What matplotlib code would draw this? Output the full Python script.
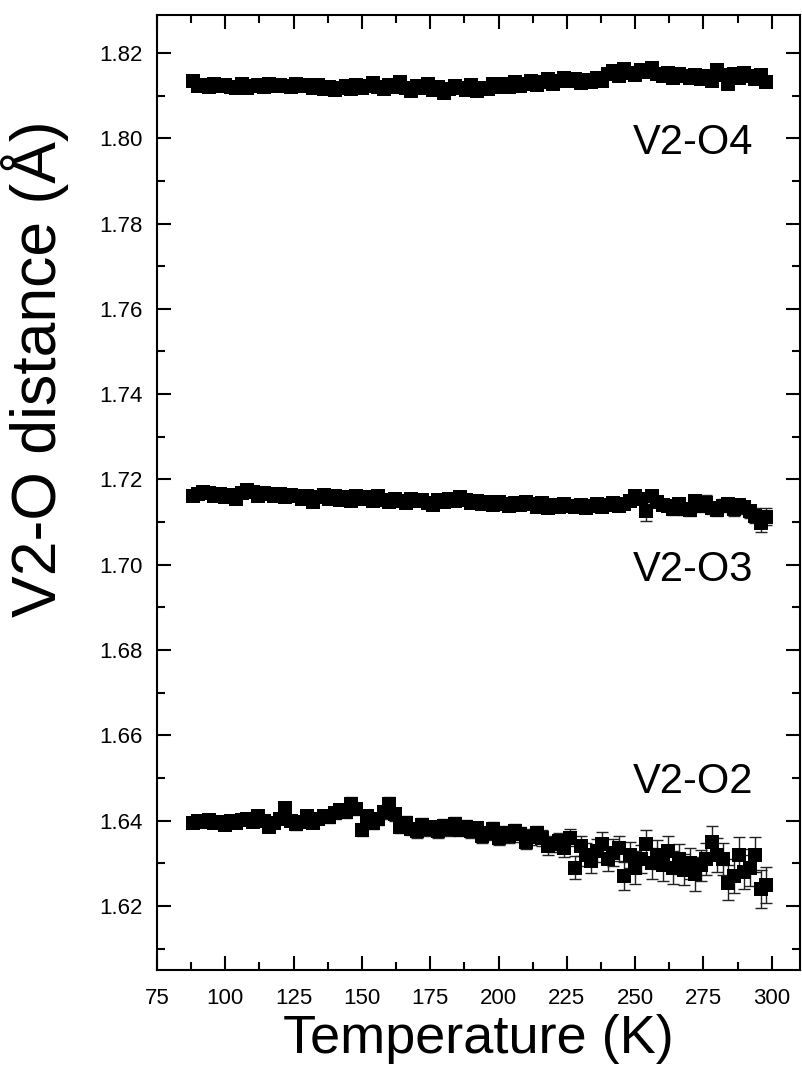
import matplotlib
matplotlib.use('Agg')
import matplotlib.pyplot as plt
import numpy as np
from matplotlib.ticker import MultipleLocator

plt.rcParams['font.family'] = ['Liberation Sans', 'DejaVu Sans']

# Temperature (K)
temps = np.arange(88, 299, 2)

# V2-O4 distance (A)
d_o4 = [1.8135, 1.8122, 1.8125, 1.8120, 1.8128, 1.8122, 1.8125, 1.8120, 1.8118, 1.8127,
        1.8118, 1.8123, 1.8125, 1.8120, 1.8128, 1.8122, 1.8125, 1.8123, 1.8120, 1.8126,
        1.8122, 1.8125, 1.8118, 1.8124, 1.8116, 1.8120, 1.8112, 1.8118, 1.8122, 1.8115,
        1.8125, 1.8118, 1.8122, 1.8130, 1.8120, 1.8115, 1.8124, 1.8120, 1.8132, 1.8118,
        1.8110, 1.8122, 1.8118, 1.8126, 1.8112, 1.8120, 1.8106, 1.8115, 1.8123, 1.8118,
        1.8114, 1.8124, 1.8110, 1.8118, 1.8115, 1.8126, 1.8120, 1.8128, 1.8120, 1.8132,
        1.8122, 1.8128, 1.8135, 1.8125, 1.8132, 1.8138, 1.8128, 1.8135, 1.8140, 1.8133,
        1.8138, 1.8130, 1.8137, 1.8132, 1.8142, 1.8135, 1.8150, 1.8158, 1.8145, 1.8162,
        1.8152, 1.8148, 1.8160, 1.8155, 1.8165, 1.8150, 1.8145, 1.8152, 1.8142, 1.8150,
        1.8145, 1.8140, 1.8148, 1.8138, 1.8145, 1.8135, 1.8160, 1.8148, 1.8128, 1.8150,
        1.8142, 1.8152, 1.8145, 1.8138, 1.8148, 1.8132]
e_o4 = [0.0007, 0.0007, 0.0007, 0.0007, 0.0007, 0.0007, 0.0007, 0.0007, 0.0007, 0.0007,
        0.0007, 0.0007, 0.0007, 0.0007, 0.0007, 0.0007, 0.0007, 0.0007, 0.0007, 0.0007,
        0.0007, 0.0007, 0.0007, 0.0007, 0.0007, 0.0007, 0.0007, 0.0007, 0.0007, 0.0007,
        0.0007, 0.0007, 0.0007, 0.0007, 0.0007, 0.0007, 0.0007, 0.0007, 0.0007, 0.0007,
        0.0007, 0.0007, 0.0007, 0.0007, 0.0007, 0.0007, 0.0007, 0.0007, 0.0007, 0.0007,
        0.0008, 0.0008, 0.0008, 0.0008, 0.0008, 0.0008, 0.0008, 0.0008, 0.0008, 0.0008,
        0.0008, 0.0008, 0.0008, 0.0008, 0.0008, 0.0008, 0.0008, 0.0008, 0.0008, 0.0008,
        0.0008, 0.0008, 0.0008, 0.0008, 0.0008, 0.0008, 0.0008, 0.0008, 0.0008, 0.0008,
        0.0009, 0.0009, 0.0009, 0.0009, 0.0009, 0.0009, 0.0009, 0.0009, 0.0009, 0.0009,
        0.0009, 0.0009, 0.0009, 0.0009, 0.0009, 0.0009, 0.0009, 0.0009, 0.0009, 0.0009,
        0.0009, 0.0009, 0.0009, 0.0009, 0.0009, 0.0009]

# V2-O3 distance (A)
d_o3 = [1.7160, 1.7165, 1.7170, 1.7168, 1.7162, 1.7165, 1.7158, 1.7163, 1.7155, 1.7168,
        1.7175, 1.7170, 1.7162, 1.7168, 1.7165, 1.7160, 1.7166, 1.7158, 1.7163, 1.7160,
        1.7155, 1.7162, 1.7148, 1.7158, 1.7163, 1.7155, 1.7160, 1.7152, 1.7158, 1.7150,
        1.7162, 1.7155, 1.7158, 1.7150, 1.7160, 1.7152, 1.7148, 1.7155, 1.7150, 1.7145,
        1.7155, 1.7150, 1.7152, 1.7145, 1.7140, 1.7152, 1.7148, 1.7155, 1.7150, 1.7158,
        1.7152, 1.7145, 1.7150, 1.7142, 1.7148, 1.7140, 1.7148, 1.7143, 1.7138, 1.7145,
        1.7140, 1.7148, 1.7142, 1.7135, 1.7145, 1.7132, 1.7140, 1.7135, 1.7142, 1.7138,
        1.7135, 1.7140, 1.7132, 1.7138, 1.7142, 1.7135, 1.7140, 1.7145, 1.7138, 1.7142,
        1.7150, 1.7162, 1.7155, 1.7125, 1.7160, 1.7148, 1.7140, 1.7138, 1.7130, 1.7142,
        1.7130, 1.7128, 1.7150, 1.7138, 1.7145, 1.7132, 1.7128, 1.7138, 1.7142, 1.7130,
        1.7140, 1.7135, 1.7125, 1.7115, 1.7098, 1.7112]
e_o3 = [0.0008, 0.0008, 0.0008, 0.0008, 0.0008, 0.0008, 0.0008, 0.0008, 0.0008, 0.0008,
        0.0008, 0.0008, 0.0008, 0.0008, 0.0008, 0.0008, 0.0008, 0.0008, 0.0008, 0.0008,
        0.0009, 0.0009, 0.0009, 0.0009, 0.0009, 0.0009, 0.0009, 0.0009, 0.0009, 0.0009,
        0.0009, 0.0009, 0.0009, 0.0009, 0.0009, 0.0009, 0.0009, 0.0009, 0.0009, 0.0009,
        0.0010, 0.0010, 0.0010, 0.0010, 0.0010, 0.0010, 0.0010, 0.0010, 0.0010, 0.0010,
        0.0010, 0.0010, 0.0010, 0.0010, 0.0010, 0.0010, 0.0010, 0.0010, 0.0010, 0.0010,
        0.0011, 0.0011, 0.0011, 0.0011, 0.0011, 0.0011, 0.0011, 0.0011, 0.0011, 0.0011,
        0.0011, 0.0011, 0.0011, 0.0011, 0.0011, 0.0011, 0.0011, 0.0012, 0.0012, 0.0012,
        0.0012, 0.0013, 0.0012, 0.0022, 0.0012, 0.0013, 0.0012, 0.0013, 0.0014, 0.0013,
        0.0014, 0.0014, 0.0013, 0.0014, 0.0018, 0.0014, 0.0014, 0.0015, 0.0014, 0.0015,
        0.0014, 0.0015, 0.0016, 0.0018, 0.0022, 0.0020]

# V2-O2 distance (A)
d_o2 = [1.6395, 1.6400, 1.6398, 1.6402, 1.6395, 1.6398, 1.6390, 1.6400, 1.6395, 1.6402,
        1.6405, 1.6398, 1.6410, 1.6400, 1.6385, 1.6395, 1.6405, 1.6430, 1.6400, 1.6392,
        1.6398, 1.6410, 1.6395, 1.6405, 1.6412, 1.6408, 1.6418, 1.6425, 1.6420, 1.6440,
        1.6428, 1.6378, 1.6410, 1.6395, 1.6405, 1.6420, 1.6440, 1.6415, 1.6385, 1.6395,
        1.6380, 1.6375, 1.6390, 1.6380, 1.6385, 1.6375, 1.6388, 1.6380, 1.6392, 1.6378,
        1.6385, 1.6375, 1.6382, 1.6365, 1.6370, 1.6380, 1.6360, 1.6370, 1.6365, 1.6375,
        1.6368, 1.6350, 1.6362, 1.6370, 1.6360, 1.6340, 1.6345, 1.6352, 1.6335, 1.6360,
        1.6290, 1.6340, 1.6320, 1.6305, 1.6330, 1.6345, 1.6310, 1.6325, 1.6335, 1.6270,
        1.6320, 1.6290, 1.6310, 1.6345, 1.6300, 1.6320, 1.6295, 1.6330, 1.6290, 1.6310,
        1.6285, 1.6300, 1.6275, 1.6295, 1.6310, 1.6350, 1.6320, 1.6310, 1.6255, 1.6270,
        1.6320, 1.6280, 1.6290, 1.6320, 1.6240, 1.6250]
e_o2 = [0.0010, 0.0011, 0.0010, 0.0011, 0.0010, 0.0011, 0.0010, 0.0011, 0.0012, 0.0011,
        0.0012, 0.0011, 0.0012, 0.0013, 0.0012, 0.0011, 0.0012, 0.0013, 0.0012, 0.0013,
        0.0012, 0.0013, 0.0012, 0.0013, 0.0014, 0.0013, 0.0014, 0.0013, 0.0014, 0.0015,
        0.0014, 0.0015, 0.0014, 0.0015, 0.0014, 0.0015, 0.0016, 0.0015, 0.0014, 0.0015,
        0.0014, 0.0015, 0.0016, 0.0015, 0.0014, 0.0015, 0.0016, 0.0015, 0.0016, 0.0015,
        0.0016, 0.0015, 0.0016, 0.0017, 0.0016, 0.0017, 0.0016, 0.0017, 0.0018, 0.0017,
        0.0018, 0.0017, 0.0019, 0.0018, 0.0019, 0.0020, 0.0019, 0.0020, 0.0021, 0.0020,
        0.0026, 0.0024, 0.0027, 0.0028, 0.0026, 0.0029, 0.0028, 0.0031, 0.0030, 0.0033,
        0.0031, 0.0038, 0.0033, 0.0034, 0.0036, 0.0034, 0.0037, 0.0035, 0.0038, 0.0036,
        0.0037, 0.0036, 0.0039, 0.0037, 0.0038, 0.0037, 0.0040, 0.0038, 0.0041, 0.0039,
        0.0042, 0.0040, 0.0043, 0.0041, 0.0044, 0.0042]

series = [(d_o4, e_o4), (d_o3, e_o3), (d_o2, e_o2)]
labels = ['V2-O4', 'V2-O3', 'V2-O2']
label_x = [249, 249, 249]
label_y = [1.7989, 1.6988, 1.6491]

fig = plt.figure(figsize=(8.03, 10.66), dpi=100)
ax = fig.add_axes([0.1955, 0.0901, 0.8007, 0.8959])

for d, e in series:
    ax.errorbar(temps, d, yerr=e, fmt='none', ecolor='#222222', elinewidth=1.0,
                capsize=4.5, capthick=1.0, zorder=2)
    ax.plot(temps, d, 's', color='black', markersize=9.5, markeredgewidth=0, zorder=3)

for lab, x, y in zip(labels, label_x, label_y):
    ax.text(x, y, lab, fontsize=30, ha='left', va='center')

ax.set_xlim(75, 310.3)
ax.set_ylim(1.605, 1.8289)
ax.xaxis.set_major_locator(MultipleLocator(25))
ax.xaxis.set_minor_locator(MultipleLocator(12.5))
ax.yaxis.set_major_locator(MultipleLocator(0.02))
ax.yaxis.set_minor_locator(MultipleLocator(0.01))
ax.yaxis.set_major_formatter(matplotlib.ticker.FormatStrFormatter('%.2f'))

ax.tick_params(which='both', direction='in', top=True, right=True, width=1.5,
               labelsize=16)
ax.tick_params(which='major', length=10, pad=10)
ax.tick_params(which='minor', length=6)
ax.tick_params(axis='x', pad=13)
for sp in ax.spines.values():
    sp.set_linewidth(1.5)

ax.set_xlabel('Temperature (K)', fontsize=39)
ax.xaxis.set_label_coords(0.5, -0.046)
fig.text(35 / 803, 1 - 369 / 1066, 'V2-O distance (Å)', fontsize=45,
         rotation=90, ha='center', va='center')

fig.savefig('out.png', dpi=100)
